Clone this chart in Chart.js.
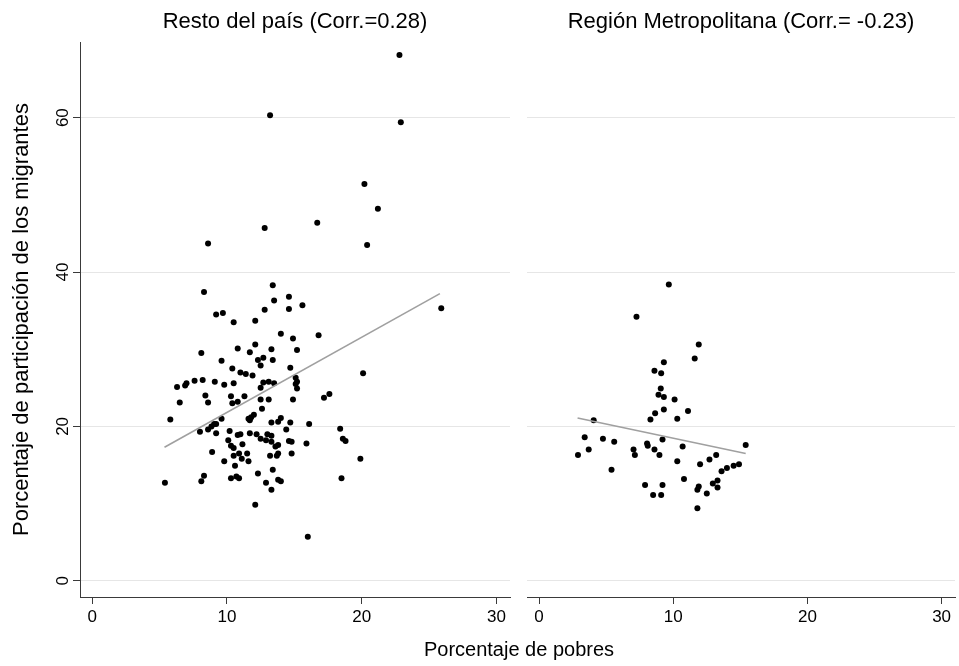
<!DOCTYPE html>
<html>
<head>
<meta charset="utf-8">
<script src="https://cdn.jsdelivr.net/npm/chart.js@4.4.1/dist/chart.umd.min.js"></script>
<style>
    html, body { margin: 0; padding: 0; background: #fff; }
    #wrap { position: relative; width: 959px; height: 666px; font-family: "Liberation Sans", Arial, sans-serif; }
    .panel { position: absolute; top: 0; height: 666px; }
    #xtitle { position: absolute; left: 80px; width: 878px; top: 638px; text-align: center; font-size: 20px; color: #000; }
</style>
</head>
<body>
<div id="wrap">
    <div class="panel" style="left:0; width:515px;"><canvas id="chart-resto"></canvas></div>
    <div class="panel" style="left:515px; width:444px;"><canvas id="chart-metro"></canvas></div>
    <div id="xtitle">Porcentaje de pobres</div>
</div>
<script>
// ===== Data =====

const xTicks = [0, 10, 20, 30];
const yTicks = [0, 20, 40, 60];

// Resto del país: % pobres vs % participación de los migrantes
const restoPobres = [
    22.8, 13.2, 22.9, 20.2, 21.2, 8.6, 12.8, 16.7, 20.4, 8.3,
    13.4, 13.5, 14.6, 14.6, 15.6, 12.8, 9.2, 9.7, 10.5, 12.1,
    25.9, 14.0, 14.9, 16.8, 8.1, 10.8, 12.1, 11.7, 13.3, 15.2,
    9.6, 12.3, 12.7, 12.5, 13.4, 10.4, 11.0, 11.4, 11.9, 14.7,
    20.1, 6.3, 6.9, 7.0, 7.6, 8.2, 9.1, 9.8, 10.5, 12.7,
    13.1, 13.5, 15.1, 15.2, 15.1, 15.2, 12.5, 6.5, 8.4, 8.6,
    10.3, 10.4, 10.8, 11.3, 12.5, 13.1, 12.6, 14.9, 17.2, 17.6,
    5.8, 9.6, 9.05, 9.2, 8.85, 11.6, 11.8, 12.0, 11.7, 13.3,
    13.8, 14.0, 14.7, 16.1, 14.4, 8.0, 8.6, 9.2, 10.2, 10.8,
    11.0, 11.7, 12.2, 13.0, 13.3, 12.5, 12.9, 13.3, 13.6, 13.8,
    14.6, 14.8, 10.1, 10.3, 10.5, 11.15, 15.9, 18.4, 18.6, 18.8,
    8.9, 9.8, 10.5, 10.6, 10.9, 11.1, 11.5, 11.6, 13.2, 13.7,
    13.8, 14.8, 19.9, 5.4, 8.1, 8.3, 10.3, 10.7, 10.9, 12.3,
    12.9, 13.4, 13.8, 14.0, 13.3, 12.1, 18.5, 16.0
];
const restoMigrantes = [
    68.1, 60.3, 59.4, 51.4, 48.2, 43.7, 45.7, 46.4, 43.5, 37.4,
    38.3, 36.3, 36.8, 35.2, 35.7, 35.1, 34.5, 34.7, 33.5, 33.7,
    35.3, 32.0, 31.4, 31.8, 29.5, 30.1, 30.6, 29.6, 30.0, 29.9,
    28.5, 28.6, 28.9, 27.9, 28.6, 27.5, 27.0, 26.8, 26.6, 27.6,
    26.9, 25.1, 25.3, 25.6, 25.9, 26.0, 25.8, 25.4, 25.6, 25.7,
    25.8, 25.6, 26.3, 25.8, 25.5, 24.9, 25.0, 23.1, 24.0, 23.1,
    23.9, 23.0, 23.2, 23.9, 23.5, 23.5, 22.3, 23.5, 23.7, 24.2,
    20.9, 21.0, 20.3, 20.3, 20.0, 21.0, 21.2, 21.5, 20.8, 20.5,
    20.6, 21.1, 20.5, 20.3, 19.6, 19.3, 19.6, 19.1, 19.4, 18.9,
    19.0, 19.1, 19.0, 19.0, 18.8, 18.4, 18.2, 18.0, 17.4, 17.6,
    18.1, 18.0, 18.2, 17.5, 17.2, 17.7, 17.8, 19.7, 18.4, 18.1,
    16.7, 15.5, 16.2, 14.9, 16.5, 15.8, 16.5, 15.5, 16.2, 16.2,
    16.5, 16.5, 15.8, 12.7, 12.9, 13.6, 13.3, 13.5, 13.3, 13.9,
    12.7, 14.4, 13.1, 12.9, 11.8, 9.85, 13.3, 5.7
];
const restoFitX = [5.37, 25.8];
const restoFitY = [17.3, 37.2];

// Región Metropolitana
const metroPobres = [
    9.67, 7.26, 11.9, 11.6, 9.3, 8.6, 9.1, 9.07, 8.9, 9.3,
    10.1, 9.3, 8.65, 11.1, 8.3, 10.3, 4.07, 3.4, 3.7, 2.9,
    4.76, 5.6, 5.4, 7.04, 7.14, 8.05, 8.1, 8.6, 8.97, 9.2,
    10.7, 10.3, 12.0, 12.7, 13.2, 10.8, 7.9, 8.5, 9.1, 9.2,
    11.9, 11.8, 12.5, 12.95, 13.3, 13.3, 11.8, 15.4, 13.6, 14.0,
    14.5, 14.9
];
const metroMigrantes = [
    38.4, 34.2, 30.6, 28.8, 28.3, 27.2, 26.9, 24.9, 24.1, 23.8,
    23.5, 22.2, 21.7, 22.0, 20.9, 21.0, 20.8, 18.6, 17.0, 16.3,
    18.4, 18.0, 14.4, 17.0, 16.3, 17.8, 17.5, 17.0, 16.3, 18.3,
    17.4, 15.5, 15.1, 15.7, 16.3, 13.2, 12.4, 11.1, 11.1, 12.4,
    12.2, 11.8, 11.3, 12.6, 13.0, 12.1, 9.4, 17.6, 14.2, 14.6,
    14.9, 15.1
];
const metroFitX = [2.87, 15.4];
const metroFitY = [21.1, 16.5];

// ===== Helpers =====

const FONT = '"Liberation Sans", Arial, sans-serif';
const GRID_COLOR = '#e6e6e6';
const AXIS_COLOR = '#3a3a3a';

const toPoints = (xs, ys) => xs.map((x, i) => ({ x, y: ys[i] }));

function panelDatasets(px, py, fx, fy) {
    return [
        {
            data: toPoints(fx, fy),
            showLine: true,
            borderColor: '#a0a0a0',
            borderWidth: 1.6,
            pointRadius: 0,
            order: 0
        },
        {
            data: toPoints(px, py),
            backgroundColor: '#000',
            borderWidth: 0,
            pointRadius: 3,
            order: 1
        }
    ];
}

function buildChart(canvasId, title, datasets, isLeft) {
    const ctx = document.getElementById(canvasId).getContext('2d');
    return new Chart(ctx, {
        type: 'scatter',
        data: { datasets },
        options: {
            responsive: true,
            maintainAspectRatio: false,
            animation: false,
            events: [],
            layout: { padding: isLeft ? { left: 0, right: 5, top: 0, bottom: 0 } : { left: 12, right: 1, top: 0, bottom: 0 } },
            plugins: {
                legend: { display: false },
                tooltip: { enabled: false },
                title: {
                    display: true,
                    text: title,
                    fullSize: false,
                    color: '#000',
                    font: { family: FONT, size: 22, weight: 'normal' },
                    padding: { top: 9, bottom: 6.6 }
                }
            },
            scales: {
                x: {
                    type: 'linear',
                    min: -0.9,
                    max: 31.0,
                    afterBuildTicks: s => { s.ticks = xTicks.map(v => ({ value: v })); },
                    afterFit: s => { s.height = 69; },
                    border: { display: true, color: AXIS_COLOR, width: 1 },
                    grid: { drawOnChartArea: false, drawTicks: true, tickLength: 7, tickColor: AXIS_COLOR },
                    ticks: { color: '#000', font: { family: FONT, size: 17 }, padding: 3, maxRotation: 0 }
                },
                y: {
                    type: 'linear',
                    min: -2.1,
                    max: 69.8,
                    afterBuildTicks: s => { s.ticks = yTicks.map(v => ({ value: v })); },
                    afterFit: s => { s.width = isLeft ? 80 : 0; },
                    border: { display: isLeft, color: AXIS_COLOR, width: 1 },
                    grid: { color: GRID_COLOR, lineWidth: 1, drawTicks: isLeft, tickLength: 7, tickColor: AXIS_COLOR },
                    ticks: {
                        display: isLeft,
                        color: '#000',
                        font: { family: FONT, size: 17 },
                        padding: 0,
                        minRotation: 90,
                        maxRotation: 90,
                        crossAlign: 'center'
                    },
                    title: {
                        display: isLeft,
                        text: 'Porcentaje de participación de los migrantes',
                        color: '#000',
                        font: { family: FONT, size: 22 },
                        padding: { top: 9, bottom: 0 }
                    }
                }
            }
        }
    });
}

buildChart('chart-resto', 'Resto del país (Corr.=0.28)',
    panelDatasets(restoPobres, restoMigrantes, restoFitX, restoFitY), true);
buildChart('chart-metro', 'Región Metropolitana (Corr.= -0.23)',
    panelDatasets(metroPobres, metroMigrantes, metroFitX, metroFitY), false);
</script>
</body>
</html>
